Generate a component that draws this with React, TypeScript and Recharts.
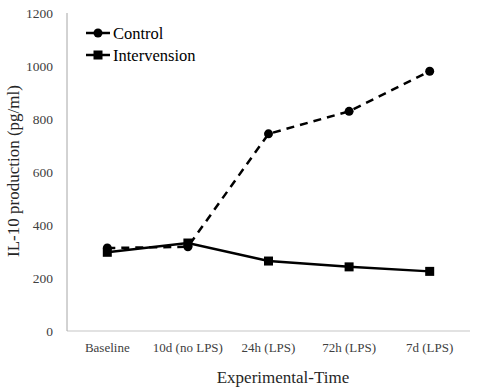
import { LineChart, Line, XAxis, YAxis, Label } from "recharts";

const categories = ["Baseline", "10d (no LPS)", "24h (LPS)", "72h (LPS)", "7d (LPS)"];
const controlValues = [313, 318, 744, 829, 980];
const interventionValues = [297, 332, 264, 242, 225];
const yTicks = [0, 200, 400, 600, 800, 1000, 1200];
const seriesNames = ["Control", "Intervension"];

const data = categories.map((name, i) => ({
  name,
  control: controlValues[i],
  intervention: interventionValues[i],
}));

const FONT = "'Liberation Serif', 'Times New Roman', serif";

function SquareDot(props: any) {
  const { cx, cy } = props;
  if (cx == null || cy == null) return null;
  return <rect x={cx - 4.5} y={cy - 4.5} width={9} height={9} fill="#000" />;
}

// legend drawn on top of the plot, Excel style (solid line + marker)
function LegendBox() {
  return (
    <svg
      width={170}
      height={50}
      style={{ position: "absolute", left: 86, top: 22, overflow: "visible" }}
    >
      {seriesNames.map((label, i) => {
        const y = 11 + i * 22;
        return (
          <g key={label}>
            <line x1={0} x2={24} y1={y} y2={y} stroke="#000" strokeWidth={2.5} />
            {i === 0 ? (
              <circle cx={12} cy={y} r={4.5} fill="#000" />
            ) : (
              <rect x={7.5} y={y - 4.5} width={9} height={9} fill="#000" />
            )}
            <text x={27} y={y} dy="0.35em" fontFamily={FONT} fontSize={16.5} fill="#000">
              {label}
            </text>
          </g>
        );
      })}
    </svg>
  );
}

export default function App() {
  return (
    <div style={{ position: "absolute", left: 0, top: 0, width: 479, height: 392, background: "#fff" }}>
      <style>{"body{margin:0}"}</style>
      <LineChart
        width={479}
        height={392}
        data={data}
        margin={{ top: 13, right: 9, bottom: 31, left: 0 }}
      >
        <XAxis
          dataKey="name"
          scale="band"
          height={30}
          axisLine={{ stroke: "#d9d9d9", strokeWidth: 1.5 }}
          tickLine={false}
          tickMargin={6}
          interval={0}
          tick={{ fontFamily: FONT, fontSize: 13, fill: "#404040" }}
        >
          <Label
            content={() => (
              <text x={283} y={377} dy="0.35em" textAnchor="middle" fontFamily={FONT} fontSize={17} fill="#262626">
                Experimental-Time
              </text>
            )}
          />
        </XAxis>
        <YAxis
          width={67}
          domain={[0, 1200]}
          ticks={yTicks}
          axisLine={{ stroke: "#a6a6a6", strokeWidth: 1 }}
          tickLine={false}
          tickMargin={8}
          tick={{ fontFamily: FONT, fontSize: 13.5, fill: "#404040" }}
        >
          <Label
            content={() => (
              <text
                x={13}
                y={171}
                dy="0.35em"
                textAnchor="middle"
                transform="rotate(-90 13 171)"
                fontFamily={FONT}
                fontSize={17}
                fill="#262626"
              >
                IL-10 production (pg/ml)
              </text>
            )}
          />
        </YAxis>
        <Line
          dataKey="control"
          name={seriesNames[0]}
          stroke="#000"
          strokeWidth={2.5}
          strokeDasharray="8 6"
          dot={{ r: 4.5, fill: "#000", stroke: "#000", strokeWidth: 0 }}
          activeDot={false}
          isAnimationActive={false}
        />
        <Line
          dataKey="intervention"
          name={seriesNames[1]}
          stroke="#000"
          strokeWidth={2.5}
          dot={<SquareDot />}
          activeDot={false}
          isAnimationActive={false}
        />
      </LineChart>
      <LegendBox />
    </div>
  );
}
